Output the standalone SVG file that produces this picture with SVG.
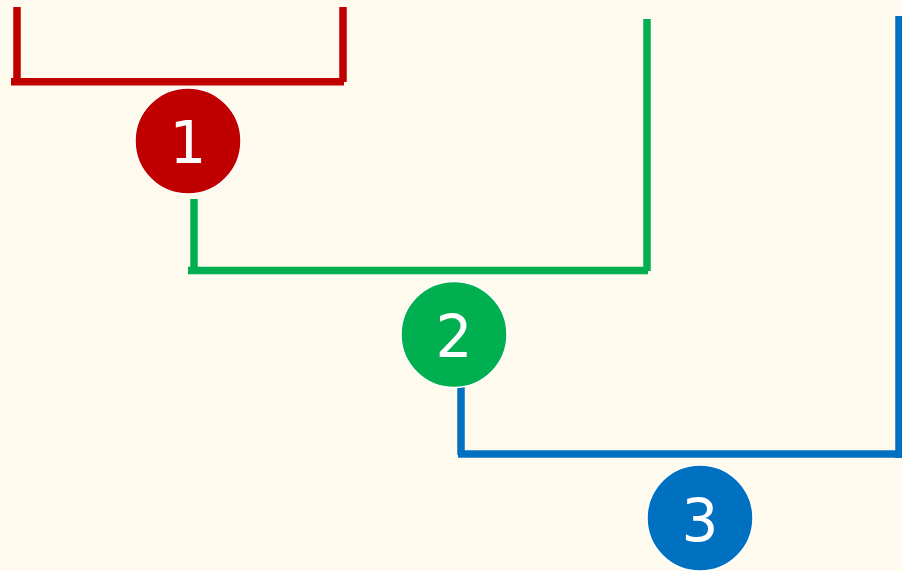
<svg xmlns="http://www.w3.org/2000/svg" width="902" height="571" viewBox="0 0 902 571">
<style>
.c{stroke:#ffffff;stroke-width:1.5}
.t{font-family:"DejaVu Sans",sans-serif;font-size:58px;fill:#ffffff;text-anchor:middle}
.l{fill:none;stroke-width:7.5;stroke-linecap:butt}
</style>
<rect width="902" height="571" fill="#FEFAEE"/>
<g id="connectors">
<g class="l" stroke="#C00000">
<line x1="17" y1="7" x2="17" y2="82"/>
<line x1="11" y1="81.7" x2="344" y2="81.7"/>
<line x1="343" y1="7" x2="343" y2="82"/>
</g>
<g class="l" stroke="#00B050">
<line x1="194" y1="199" x2="194" y2="271"/>
<line x1="188" y1="270.5" x2="648" y2="270.5"/>
<line x1="647" y1="19" x2="647" y2="271"/>
</g>
<g class="l" stroke="#0070C0">
<line x1="461" y1="385" x2="461" y2="455"/>
<line x1="458" y1="454" x2="902" y2="454"/>
<line x1="899" y1="16" x2="899" y2="458"/>
</g>
</g>
<g id="node1">
<circle class="c" cx="188" cy="141" r="53" fill="#C00000"/>
<text class="t" x="188" y="163">1</text>
</g>
<g id="node2">
<circle class="c" cx="454" cy="334.5" r="53" fill="#00B050"/>
<text class="t" x="454" y="357">2</text>
</g>
<g id="node3">
<circle class="c" cx="700" cy="518" r="53" fill="#0070C0"/>
<text class="t" x="700" y="541">3</text>
</g>
</svg>
